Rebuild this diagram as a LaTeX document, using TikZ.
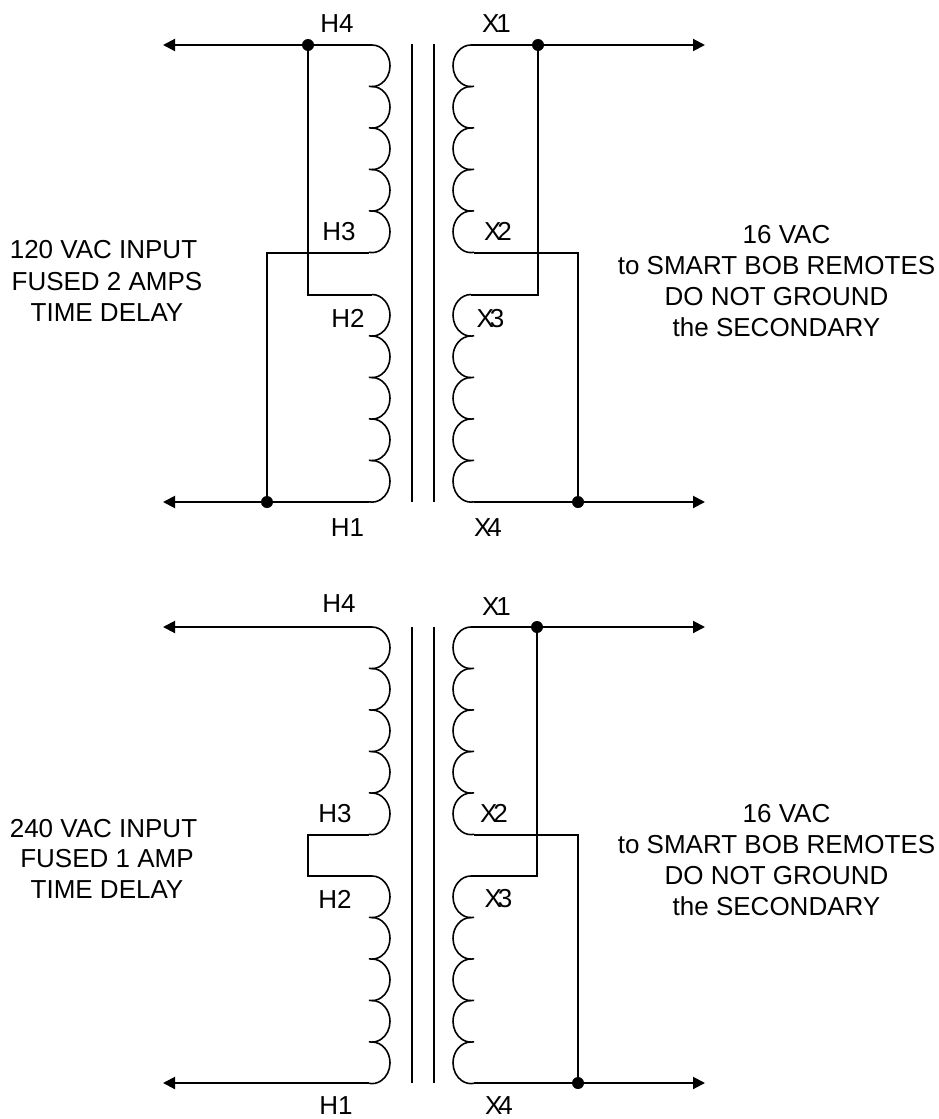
\documentclass[tikz,border=0pt]{standalone}
\usepackage{fontspec}
\setmainfont{Liberation Sans}
\usetikzlibrary{arrows.meta}
\begin{document}
\begin{tikzpicture}[
    x=1pt, y=-1pt,
    wire/.style={line width=2pt},
    coil/.style={line width=1.6pt},
    arrow/.style={-{Triangle[length=12pt,width=12pt]}, line width=2pt},
    dot/.style={circle, fill=black, inner sep=0pt, minimum size=12pt},
    term/.style={font=\fontsize{26}{30}\selectfont, inner sep=0pt},
    note/.style={font=\fontsize{26}{31}\selectfont, align=center, inner sep=0pt}
]
    \useasboundingbox (0,0) rectangle (939,1119);

    % core and windings, both transformers
    \foreach \ytop/\ybot in {44/502, 627/1083} {
        \draw[wire] (412,\ytop) -- (412,\ybot);
        \draw[wire] (434,\ytop) -- (434,\ybot);
    }
    \foreach \ystart in {45,294.5,627,876} {
        \foreach \i in {0,1,2,3,4} {
            \draw[coil] (372,\ystart+41.5*\i) arc[x radius=18pt, y radius=20.8pt, start angle=90, end angle=-100];
            \draw[coil] (471,\ystart+41.5*\i) arc[x radius=18pt, y radius=20.8pt, start angle=90, end angle=280];
        }
    }

    % upper transformer
    \coordinate (h4) at (372,45);
    \coordinate (h3) at (369,252.5);
    \coordinate (h2) at (372,294.5);
    \coordinate (h1) at (369,502);
    \coordinate (x1) at (471,45);
    \coordinate (x2) at (474,252.5);
    \coordinate (x3) at (471,294.5);
    \coordinate (x4) at (474,502);
    \coordinate (h4tip) at (163,45);
    \coordinate (h1tip) at (163,502);
    \coordinate (x1tip) at (705,45);
    \coordinate (x4tip) at (705,502);
    \node[dot] (h4dot) at (308,45) {};
    \node[dot] (h1dot) at (267,502) {};
    \node[dot] (x1dot) at (538,45) {};
    \node[dot] (x4dot) at (578,502) {};

    \draw[arrow] (h4) -- (h4tip);
    \draw[arrow] (h1) -- (h1tip);
    \draw[arrow] (x1) -- (x1tip);
    \draw[arrow] (x4) -- (x4tip);
    \draw[wire] (h4dot) |- (h2);
    \draw[wire] (h1dot) |- (h3);
    \draw[wire] (x1dot) |- (x3);
    \draw[wire] (x4dot) |- (x2);

    \node[term] (lh4) at (337,23.5) {H4};
    \node[term] (lh3) at (339,232) {H3};
    \node[term] (lh2) at (348,318.5) {H2};
    \node[term] (lh1) at (347.5,527.5) {H1};
    \node[term] (lx1) at (496.5,23.5) {X\kern-3pt 1};
    \node[term] (lx2) at (498,231.5) {X\kern-4pt 2};
    \node[term] (lx3) at (490.5,318.5) {X\kern-4pt 3};
    \node[term] (lx4) at (488,527.5) {X\kern-4pt 4};

    \node[note, font=\fontsize{26}{31.5}\selectfont] (inputa) at (107,281) {120 VAC INPUT\hspace*{7pt}\\FUSED 2 AMPS\\TIME DELAY};
    \node[note] (outa) at (776.5,281.5) {\hspace*{20pt}16 VAC\\to SMART BOB REMOTES\\DO NOT GROUND\\the SECONDARY};

    % lower transformer
    \coordinate (hh4) at (372,627);
    \coordinate (hh3) at (369,834.5);
    \coordinate (hh2) at (372,876);
    \coordinate (hh1) at (369,1083);
    \coordinate (xx1) at (471,627);
    \coordinate (xx2) at (474,834.5);
    \coordinate (xx3) at (471,876);
    \coordinate (xx4) at (474,1083);
    \coordinate (hh4tip) at (163,627);
    \coordinate (hh1tip) at (163,1083);
    \coordinate (xx1tip) at (705,627);
    \coordinate (xx4tip) at (705,1083);
    \coordinate (link) at (308,834.5);
    \node[dot] (xx1dot) at (537,627) {};
    \node[dot] (xx4dot) at (578,1083) {};

    \draw[arrow] (hh4) -- (hh4tip);
    \draw[arrow] (hh1) -- (hh1tip);
    \draw[arrow] (xx1) -- (xx1tip);
    \draw[arrow] (xx4) -- (xx4tip);
    \draw[wire] (hh3) -- (link) |- (hh2);
    \draw[wire] (xx1dot) |- (xx3);
    \draw[wire] (xx4dot) |- (xx2);

    \node[term] (lhh4) at (339,603.5) {H4};
    \node[term] (lhh3) at (335,813.5) {H3};
    \node[term] (lhh2) at (335,899) {H2};
    \node[term] (lhh1) at (336,1106) {H1};
    \node[term] (lxx1) at (496.5,606.5) {X\kern-3pt 1};
    \node[term] (lxx2) at (494,813.5) {X\kern-4pt 2};
    \node[term] (lxx3) at (498.5,899) {X\kern-4pt 3};
    \node[term] (lxx4) at (499,1106) {X\kern-4pt 4};

    \node[note, font=\fontsize{26}{30.5}\selectfont] (inputb) at (107,858.5) {240 VAC INPUT\hspace*{7pt}\\FUSED 1 AMP\\TIME DELAY};
    \node[note] (outb) at (776.5,860) {\hspace*{20pt}16 VAC\\to SMART BOB REMOTES\\DO NOT GROUND\\the SECONDARY};
\end{tikzpicture}
\end{document}
